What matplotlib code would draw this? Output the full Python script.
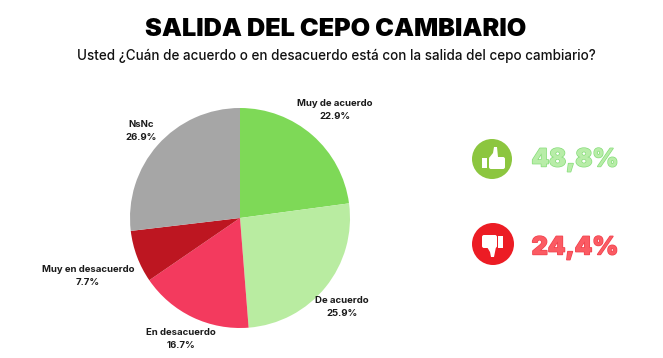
import matplotlib
matplotlib.use("Agg")
import matplotlib.pyplot as plt
import matplotlib.patheffects as pe
from matplotlib.patches import Circle, FancyBboxPatch, Polygon, Rectangle

plt.rcParams["font.family"] = ["Inter", "DejaVu Sans"]

# datos
categorias = ["Muy de acuerdo", "De acuerdo", "En desacuerdo", "Muy en desacuerdo", "NsNc"]
valores = [22.9, 25.9, 16.7, 7.7, 26.9]
colores = ["#7ed957", "#b9eca1", "#f33a5e", "#bd1621", "#a6a6a6"]
titulo = "SALIDA DEL CEPO CAMBIARIO"
subtitulo = "Usted ¿Cuán de acuerdo o en desacuerdo está con la salida del cepo cambiario?"
total_acuerdo = "48,8%"
total_desacuerdo = "24,4%"

W, H = 663, 358
# centro de cada etiqueta, en pixeles
pos_etiquetas = [(335, 110), (342, 307), (181, 339), (88, 276), (141, 131)]

fig = plt.figure(figsize=(W / 100, H / 100), dpi=100, facecolor="white")

ax = fig.add_axes([130 / W, (H - 328) / H, 220 / W, 220 / H])
ax.pie(valores, colors=colores, startangle=90, counterclock=False, radius=1)
ax.set_xlim(-1, 1)
ax.set_ylim(-1, 1)

over = fig.add_axes([0, 0, 1, 1], zorder=5)
over.set_xlim(0, W)
over.set_ylim(H, 0)
over.axis("off")

over.text(336, 29, titulo, ha="center", va="center", fontsize=18.2,
          fontweight="black", color="black")
over.text(336, 56, subtitulo, ha="center", va="center", fontsize=9.7,
          fontweight="medium", color="#111111")

for nombre, valor, (x, y) in zip(categorias, valores, pos_etiquetas):
    over.text(x, y, f"{nombre}\n{valor}%", ha="center", va="center", fontsize=6.9,
              fontweight="bold", color="#1a1a1a", linespacing=1.55)

# iconos
over.add_patch(Circle((492, 159), 20, color="#8cc63f", lw=0))
over.add_patch(Rectangle((482, 158), 5, 10, color="white", lw=0))
over.add_patch(FancyBboxPatch((489, 157), 16, 12, boxstyle="round,pad=0,rounding_size=2",
                              color="white", lw=0))
over.add_patch(Polygon([(489, 158), (493, 153), (494, 147), (497, 147), (498, 157)],
                       color="white", lw=0))

over.add_patch(Circle((493, 244), 21, color="#ec1c24", lw=0))
over.add_patch(Rectangle((498, 236), 5, 12, color="white", lw=0))
over.add_patch(FancyBboxPatch((482, 235), 15, 13, boxstyle="round,pad=0,rounding_size=2",
                              color="white", lw=0))
over.add_patch(Polygon([(487, 247), (490, 252), (491, 257), (494, 257), (496, 247)],
                       color="white", lw=0))

# totales
verde = over.text(575, 160, total_acuerdo, ha="center", va="center", fontsize=18,
                  fontweight="black", color="#b8eda8")
verde.set_path_effects([pe.withStroke(linewidth=1.0, foreground="#86dd7a")])
rojo = over.text(575, 248, total_desacuerdo, ha="center", va="center", fontsize=18,
                 fontweight="black", color="#fb5b63")
rojo.set_path_effects([pe.withStroke(linewidth=1.0, foreground="#f0404c")])

fig.savefig("out.png", dpi=100)
